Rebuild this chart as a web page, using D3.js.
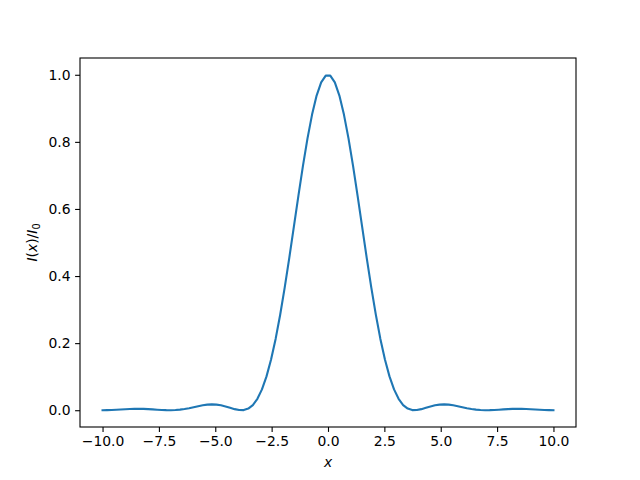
<!DOCTYPE html>
<html>
<head>
<meta charset="utf-8">
<script src="https://cdn.jsdelivr.net/npm/d3@7"></script>
<style>
  body { margin: 0; background: #fff; }
  svg { display: block; }
  text { font-family: "DejaVu Sans", sans-serif; }
</style>
</head>
<body>
<svg id="chart" width="640" height="480"></svg>
<script>
// Sample positions: 100 evenly spaced points from -10 to 10
const xStart = -10, xEnd = 10, nPoints = 100;
// Intensity values for x >= 0 half (curve is symmetric)
const halfIntensity = [
  0.99745, 0.97726, 0.93790, 0.88134, 0.81034, 0.72832, 0.63904, 0.54643, 0.45430, 0.36611,
  0.28479, 0.21261, 0.15107, 0.10090, 0.06210, 0.03399, 0.01541, 0.00481, 0.00042, 0.00047,
  0.00325, 0.00726, 0.01138, 0.01472, 0.01677, 0.01740, 0.01669, 0.01478, 0.01209, 0.00908,
  0.00615, 0.00361, 0.00169, 0.00049, 0.00002, 0.00017, 0.00077, 0.00164, 0.00256, 0.00336,
  0.00392, 0.00415, 0.00405, 0.00363, 0.00301, 0.00226, 0.00152, 0.00086, 0.00036, 0.00008
];
const intensity = halfIntensity.slice().reverse().concat(halfIntensity);
const xValues = d3.range(nPoints).map(i => xStart + (xEnd - xStart) * i / (nPoints - 1));

const xTicks = [-10, -7.5, -5, -2.5, 0, 2.5, 5, 7.5, 10];
const yTicks = [0, 0.2, 0.4, 0.6, 0.8, 1.0];

const data = xValues.map((x, i) => ({ x, y: intensity[i] }));

const svg = d3.select("#chart");
const mLeft = 80, mRight = 576, mTop = 58, mBottom = 427;

const x = d3.scaleLinear().domain([-11, 11]).range([mLeft, mRight]);
const y = d3.scaleLinear().domain([-0.05, 1.05]).range([mBottom, mTop]);

const fmt = d3.format(".1f");

const gx = svg.append("g").attr("transform", `translate(0,${mBottom})`)
  .call(d3.axisBottom(x).tickValues(xTicks).tickFormat(fmt).tickSizeInner(4.9).tickSizeOuter(0).tickPadding(4.5));
const gy = svg.append("g").attr("transform", `translate(${mLeft},0)`)
  .call(d3.axisLeft(y).tickValues(yTicks).tickFormat(fmt).tickSizeInner(4.9).tickSizeOuter(0).tickPadding(4.5));
[gx, gy].forEach(g => {
  g.select(".domain").remove();
  g.selectAll("line").attr("stroke", "#000").attr("stroke-width", 1.1);
  g.selectAll("text").attr("font-size", 13.9).attr("fill", "#000").attr("font-family", "DejaVu Sans, sans-serif");
});

svg.append("path").datum(data)
  .attr("fill", "none").attr("stroke", "#1f77b4").attr("stroke-width", 2.1)
  .attr("stroke-linejoin", "round").attr("stroke-linecap", "square")
  .attr("d", d3.line().x(d => x(d.x)).y(d => y(d.y)));

svg.append("rect").attr("x", mLeft).attr("y", mTop).attr("width", mRight - mLeft).attr("height", mBottom - mTop)
  .attr("fill", "none").attr("stroke", "#000").attr("stroke-width", 1.1);

svg.append("text").attr("x", (mLeft + mRight) / 2).attr("y", 467).attr("text-anchor", "middle")
  .attr("font-size", 13.9).attr("font-style", "italic").text("x");

const yl = svg.append("text").attr("transform", `translate(37,${(mTop + mBottom) / 2}) rotate(-90)`)
  .attr("text-anchor", "middle").attr("font-size", 13.9);
yl.append("tspan").attr("font-style", "italic").text("I");
yl.append("tspan").text("(");
yl.append("tspan").attr("font-style", "italic").text("x");
yl.append("tspan").text(")/");
yl.append("tspan").attr("font-style", "italic").text("I");
yl.append("tspan").attr("font-size", 9.7).attr("dy", 3).text("0");
</script>
</body>
</html>
